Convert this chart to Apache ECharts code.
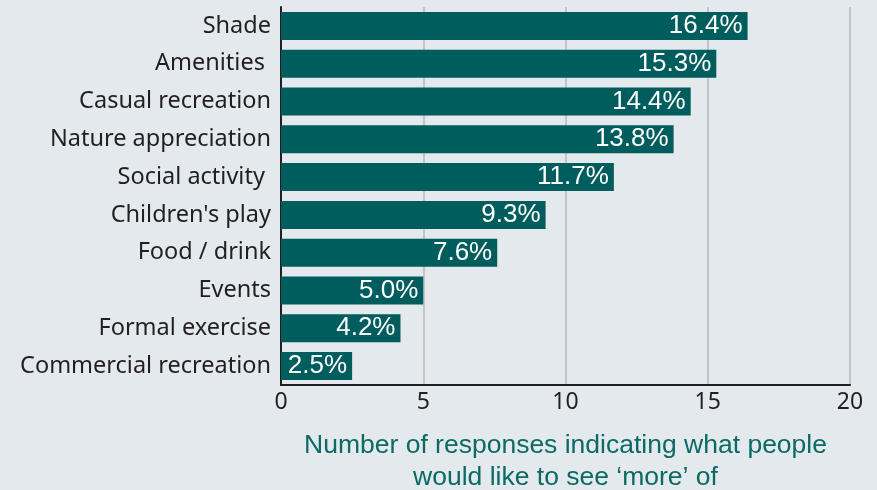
<!DOCTYPE html>
<html>
<head>
<meta charset="utf-8">
<script src="https://cdn.jsdelivr.net/npm/echarts@6/dist/echarts.min.js"></script>
<style>
  html, body { margin: 0; padding: 0; background: #e4e9ed; }
  #chart { width: 877px; height: 490px; }
</style>
</head>
<body>
<div id="chart"></div>
<script>
// Activities people would like to see more of (top to bottom)
var categories = [
  'Shade', 'Amenities ', 'Casual recreation', 'Nature appreciation',
  'Social activity ', "Children's play", 'Food / drink', 'Events',
  'Formal exercise', 'Commercial recreation'
];
var shares = [16.4, 15.3, 14.4, 13.8, 11.7, 9.3, 7.6, 5.0, 4.2, 2.5];
var xTicks = [0, 5, 10, 15, 20];
var axisTitle = 'Number of responses indicating what people\nwould like to see \u2018more\u2019 of';

var chart = echarts.init(document.getElementById('chart'));
chart.setOption({
  backgroundColor: '#e4e9ed',
  animation: false,
  grid: {
    left: 281, right: 27, top: 7, bottom: 105,
    containLabel: false, outerBoundsMode: 'none'
  },
  xAxis: {
    type: 'value',
    min: xTicks[0],
    max: xTicks[xTicks.length - 1],
    interval: 5,
    name: axisTitle,
    nameLocation: 'middle',
    nameGap: 45,
    nameTextStyle: {
      color: '#0b6a65', fontSize: 26.5, fontFamily: 'Liberation Sans', lineHeight: 32
    },
    axisLine: { show: true, lineStyle: { color: '#231f20', width: 2 } },
    axisTick: { show: false },
    axisLabel: {
      color: '#231f20', fontSize: 23, fontFamily: 'Noto Sans', margin: 6
    },
    splitLine: {
      show: true,
      lineStyle: { color: '#c2c4c6', width: 2 },
      showMinLine: false
    }
  },
  yAxis: {
    type: 'category',
    inverse: true,
    data: categories,
    axisLine: { show: true, lineStyle: { color: '#231f20', width: 2 } },
    axisTick: { show: false },
    axisLabel: {
      color: '#231f20', fontSize: 23.5, fontFamily: 'Noto Sans', margin: 10
    }
  },
  series: [{
    type: 'bar',
    data: shares,
    barWidth: 28,
    itemStyle: { color: '#005d5d' },
    label: {
      show: true,
      position: 'insideRight',
      distance: 5,
      color: '#ffffff',
      fontSize: 26,
      fontFamily: 'Liberation Sans',
      formatter: function (p) { return p.value.toFixed(1) + '%'; }
    }
  }]
});
</script>
</body>
</html>
